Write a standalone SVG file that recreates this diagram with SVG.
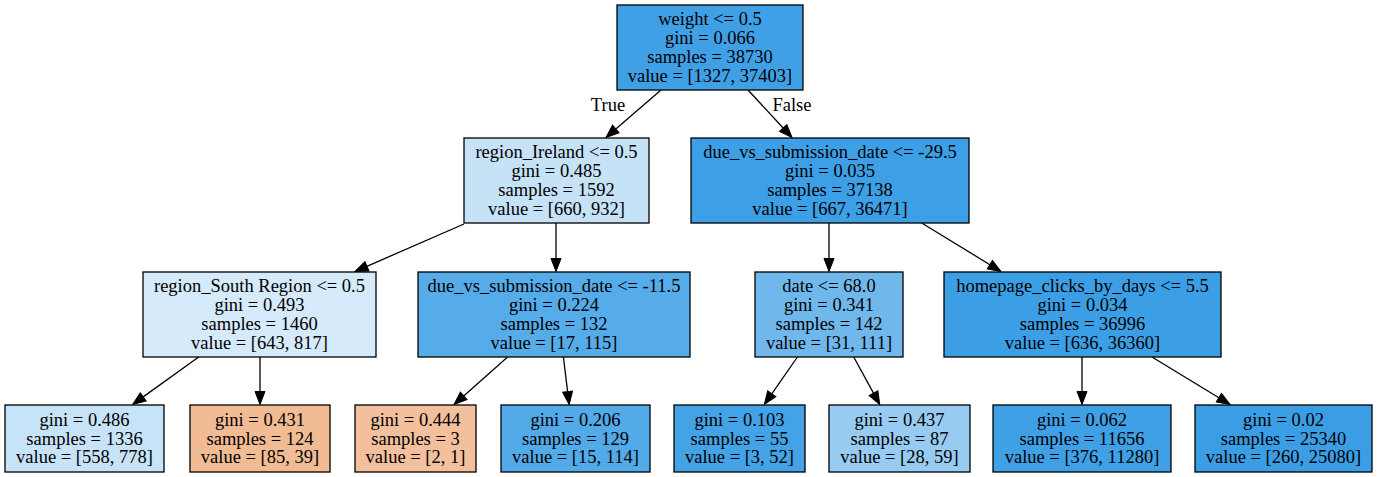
<svg xmlns="http://www.w3.org/2000/svg" width="1378" height="477" viewBox="0 0 1378 477">
<style>
rect.n{stroke:#000;stroke-width:1.3}
text{font-family:"Liberation Serif","Times New Roman",serif;font-size:18.5px;text-anchor:middle;fill:#000}
.e{stroke:#000;stroke-width:1.3;fill:none;marker-end:url(#arr)}
</style>
<defs>
<marker id="arr" markerUnits="userSpaceOnUse" viewBox="0 -5 13 10" refX="0" refY="0" markerWidth="13" markerHeight="10" orient="auto" overflow="visible">
<path d="M0,-5 L13,0 L0,5 z" fill="#000" stroke="#000" stroke-width="1"/>
</marker>
</defs>
<rect width="1378" height="477" fill="#fff"/>
<g id="connectors">
<line class="e" x1="661" y1="90" x2="615.8" y2="129"/>
<line class="e" x1="748" y1="90" x2="783.2" y2="128"/>
<line class="e" x1="464" y1="224" x2="366.9" y2="266.3"/>
<line class="e" x1="556" y1="223" x2="556" y2="258.5"/>
<line class="e" x1="829" y1="223" x2="829" y2="258.5"/>
<line class="e" x1="921.7" y1="223" x2="989.9" y2="264.7"/>
<line class="e" x1="198.7" y1="357" x2="143.2" y2="396.9"/>
<line class="e" x1="260" y1="357" x2="260" y2="391.5"/>
<line class="e" x1="507.6" y1="357" x2="463.7" y2="395.9"/>
<line class="e" x1="563.4" y1="357" x2="567.6" y2="391.6"/>
<line class="e" x1="797.4" y1="357" x2="771.8" y2="393.8"/>
<line class="e" x1="853.7" y1="357" x2="873.5" y2="393.1"/>
<line class="e" x1="1082" y1="357" x2="1082" y2="391.5"/>
<line class="e" x1="1152" y1="357" x2="1218.9" y2="397.7"/>
<text x="608" y="111">True</text>
<text x="792" y="111">False</text>
</g>
<g id="n0">
<rect class="n" x="617" y="5" width="186" height="85" fill="#40a0e6"/>
<text x="710" y="25.3">weight &lt;= 0.5</text>
<text x="710" y="44.1">gini = 0.066</text>
<text x="710" y="62.9">samples = 38730</text>
<text x="710" y="81.7">value = [1327, 37403]</text>
</g>
<g id="n1">
<rect class="n" x="464" y="138" width="185" height="85" fill="#c5e2f7"/>
<text x="556.5" y="158.3">region_Ireland &lt;= 0.5</text>
<text x="556.5" y="177.1">gini = 0.485</text>
<text x="556.5" y="195.9">samples = 1592</text>
<text x="556.5" y="214.7">value = [660, 932]</text>
</g>
<g id="n2">
<rect class="n" x="691" y="138" width="278" height="85" fill="#3d9fe5"/>
<text x="830" y="158.3">due_vs_submission_date &lt;= -29.5</text>
<text x="830" y="177.1">gini = 0.035</text>
<text x="830" y="195.9">samples = 37138</text>
<text x="830" y="214.7">value = [667, 36471]</text>
</g>
<g id="n3">
<rect class="n" x="143" y="272" width="233" height="85" fill="#d5eafa"/>
<text x="259.5" y="292.3">region_South Region &lt;= 0.5</text>
<text x="259.5" y="311.1">gini = 0.493</text>
<text x="259.5" y="329.9">samples = 1460</text>
<text x="259.5" y="348.7">value = [643, 817]</text>
</g>
<g id="n4">
<rect class="n" x="418" y="272" width="272" height="85" fill="#56ace9"/>
<text x="554" y="292.3">due_vs_submission_date &lt;= -11.5</text>
<text x="554" y="311.1">gini = 0.224</text>
<text x="554" y="329.9">samples = 132</text>
<text x="554" y="348.7">value = [17, 115]</text>
</g>
<g id="n5">
<rect class="n" x="755" y="272" width="148" height="85" fill="#70b8ec"/>
<text x="829" y="292.3">date &lt;= 68.0</text>
<text x="829" y="311.1">gini = 0.341</text>
<text x="829" y="329.9">samples = 142</text>
<text x="829" y="348.7">value = [31, 111]</text>
</g>
<g id="n6">
<rect class="n" x="944" y="272" width="277" height="85" fill="#3c9fe5"/>
<text x="1082.5" y="292.3">homepage_clicks_by_days &lt;= 5.5</text>
<text x="1082.5" y="311.1">gini = 0.034</text>
<text x="1082.5" y="329.9">samples = 36996</text>
<text x="1082.5" y="348.7">value = [636, 36360]</text>
</g>
<g id="n7">
<rect class="n" x="5" y="405" width="159" height="67" fill="#c7e3f8"/>
<text x="84.5" y="425.7">gini = 0.486</text>
<text x="84.5" y="444.5">samples = 1336</text>
<text x="84.5" y="463.3">value = [558, 778]</text>
</g>
<g id="n8">
<rect class="n" x="190" y="405" width="140" height="67" fill="#f1bb94"/>
<text x="260" y="425.7">gini = 0.431</text>
<text x="260" y="444.5">samples = 124</text>
<text x="260" y="463.3">value = [85, 39]</text>
</g>
<g id="n9">
<rect class="n" x="355" y="405" width="121" height="67" fill="#f2c09c"/>
<text x="415.5" y="425.7">gini = 0.444</text>
<text x="415.5" y="444.5">samples = 3</text>
<text x="415.5" y="463.3">value = [2, 1]</text>
</g>
<g id="n10">
<rect class="n" x="501" y="405" width="149" height="67" fill="#53aae8"/>
<text x="575.5" y="425.7">gini = 0.206</text>
<text x="575.5" y="444.5">samples = 129</text>
<text x="575.5" y="463.3">value = [15, 114]</text>
</g>
<g id="n11">
<rect class="n" x="674" y="405" width="131" height="67" fill="#44a3e6"/>
<text x="739.5" y="425.7">gini = 0.103</text>
<text x="739.5" y="444.5">samples = 55</text>
<text x="739.5" y="463.3">value = [3, 52]</text>
</g>
<g id="n12">
<rect class="n" x="829" y="405" width="141" height="67" fill="#97cbf1"/>
<text x="899.5" y="425.7">gini = 0.437</text>
<text x="899.5" y="444.5">samples = 87</text>
<text x="899.5" y="463.3">value = [28, 59]</text>
</g>
<g id="n13">
<rect class="n" x="993" y="405" width="178" height="67" fill="#40a0e6"/>
<text x="1082" y="425.7">gini = 0.062</text>
<text x="1082" y="444.5">samples = 11656</text>
<text x="1082" y="463.3">value = [376, 11280]</text>
</g>
<g id="n14">
<rect class="n" x="1195" y="405" width="177" height="67" fill="#3b9ee5"/>
<text x="1283.5" y="425.7">gini = 0.02</text>
<text x="1283.5" y="444.5">samples = 25340</text>
<text x="1283.5" y="463.3">value = [260, 25080]</text>
</g>
</svg>
